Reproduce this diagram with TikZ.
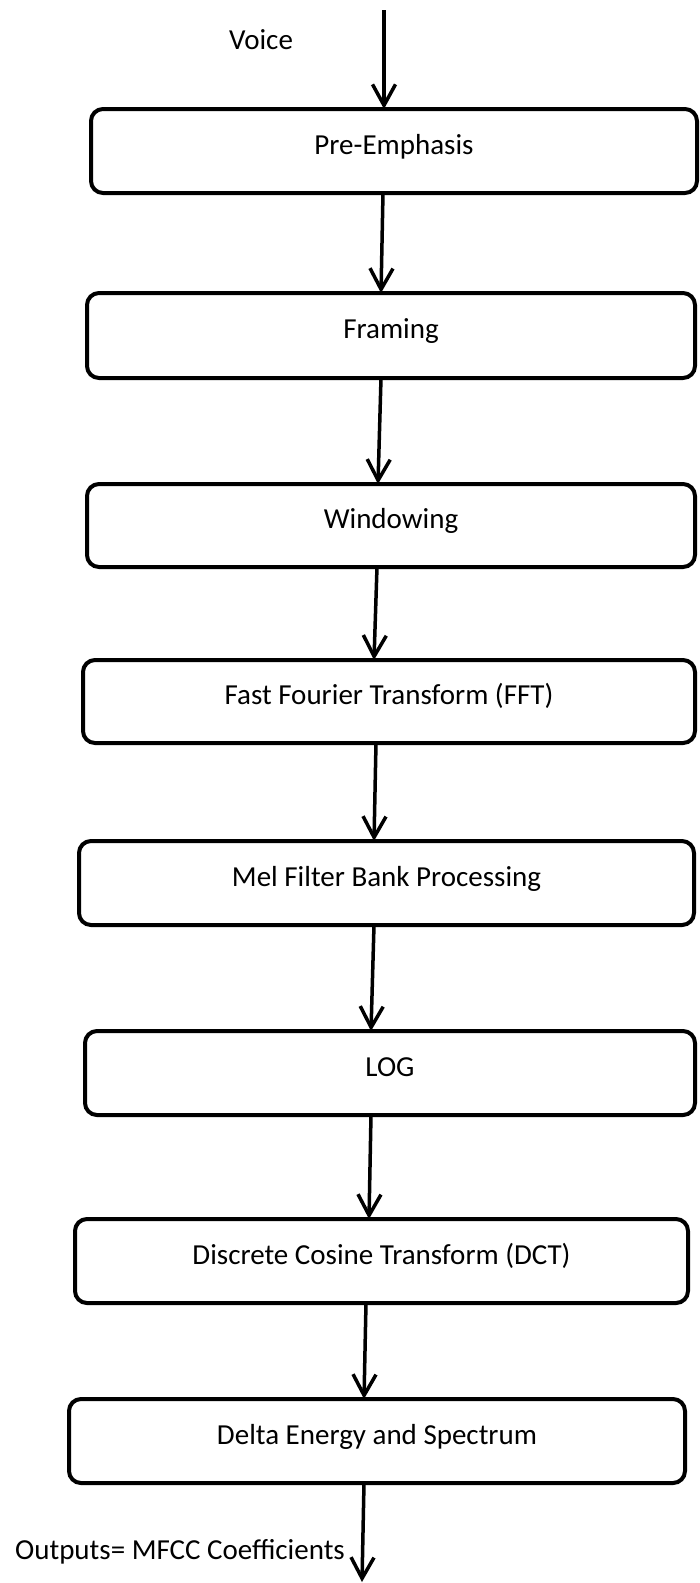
\documentclass[tikz,border=0pt]{standalone}
\usepackage{fontspec}
\setmainfont{Carlito}
\usetikzlibrary{arrows.meta}
\begin{document}
\begin{tikzpicture}[x=1pt,y=-1pt,
  stage/.style={draw,line width=4pt,rounded corners=12pt,inner sep=0pt,outer sep=0pt,
    text height=20pt,text depth=14pt,font=\fontsize{29}{34}\selectfont},
  flow/.style={line width=3.5pt,-{Straight Barb[length=21pt,width=23pt]}},
  lbl/.style={font=\fontsize{29}{34}\selectfont,inner sep=0pt}]
\useasboundingbox (0,0) rectangle (700,1583);
\node[stage,minimum width=606pt,minimum height=84pt] (b1) at (394,151) {Pre-Emphasis};
\node[stage,minimum width=608pt,minimum height=85pt] (b2) at (391,335.5) {Framing};
\node[stage,minimum width=608pt,minimum height=83pt] (b3) at (391,525.5) {Windowing};
\node[stage,minimum width=612pt,minimum height=83pt] (b4) at (389,701.5) {Fast Fourier Transform (FFT)};
\node[stage,minimum width=615pt,minimum height=84pt] (b5) at (386.5,883) {Mel Filter Bank Processing};
\node[stage,minimum width=610pt,minimum height=84pt] (b6) at (390,1073) {LOG};
\node[stage,minimum width=613pt,minimum height=84pt] (b7) at (381.5,1261) {Discrete Cosine Transform (DCT)};
\node[stage,minimum width=616pt,minimum height=84pt] (b8) at (377,1441) {Delta Energy and Spectrum};
\node[lbl] (voice) at (261,40) {Voice};
\node[lbl] (out) at (180,1552) {Outputs= MFCC Coefficients};
\coordinate (vin) at (384,10);
\coordinate (vend) at (362,1582);
\draw[flow] (vin) -- ([xshift=-10pt]b1.north);
\draw[flow] ([xshift=-11pt]b1.south) -- ([xshift=-10pt]b2.north);
\draw[flow] ([xshift=-10pt]b2.south) -- ([xshift=-13pt]b3.north);
\draw[flow] ([xshift=-14pt]b3.south) -- ([xshift=-15pt]b4.north);
\draw[flow] ([xshift=-13pt]b4.south) -- ([xshift=-12.5pt]b5.north);
\draw[flow] ([xshift=-12.5pt]b5.south) -- ([xshift=-19pt]b6.north);
\draw[flow] ([xshift=-19pt]b6.south) -- ([xshift=-12.5pt]b7.north);
\draw[flow] ([xshift=-15.5pt]b7.south) -- ([xshift=-13pt]b8.north);
\draw[flow] ([xshift=-13pt]b8.south) -- (vend);
\end{tikzpicture}
\end{document}
